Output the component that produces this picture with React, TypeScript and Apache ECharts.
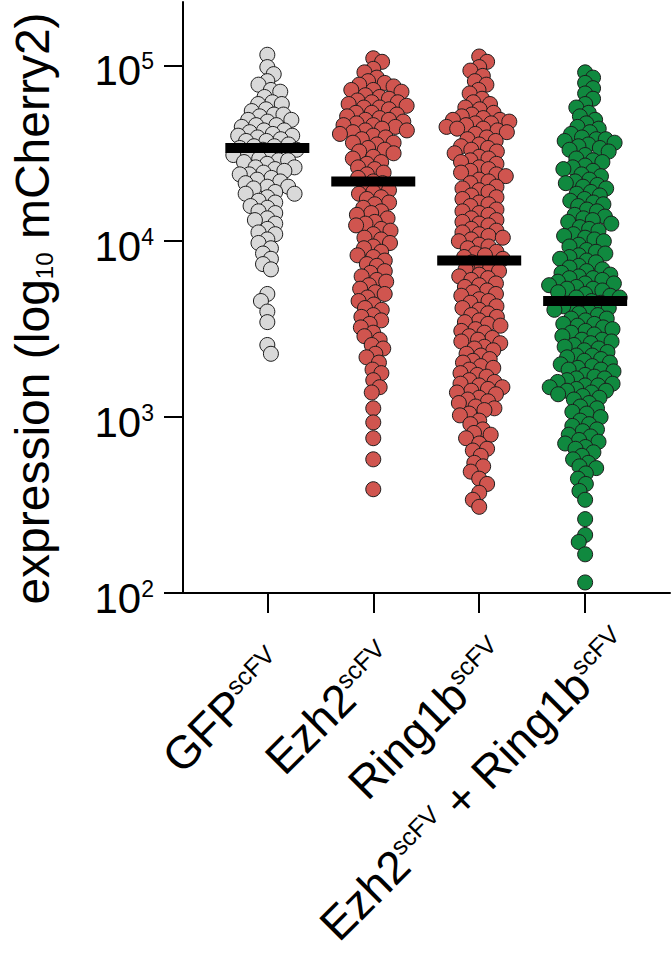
import React, { useEffect, useRef } from "react";
import * as echarts from "echarts";

// Categories on the x axis (each label carries a "scFV" superscript)
const categories = ["GFP", "Ezh2", "Ring1b", "Ezh2 + Ring1b"];
const superscript = "scFV";

// log10(mCherry2 expression) of each cell
const gfpLog10 = [
  5.06, 4.99, 4.95, 4.91, 4.89, 4.86, 4.85, 4.82, 4.79, 4.78, 4.78, 4.75, 4.74, 4.72, 4.72, 4.71,
  4.69, 4.69, 4.68, 4.66, 4.66, 4.65, 4.63, 4.63, 4.62, 4.61, 4.60, 4.60, 4.59, 4.58, 4.57, 4.57,
  4.55, 4.54, 4.54, 4.53, 4.52, 4.52, 4.51, 4.50, 4.49, 4.49, 4.47, 4.46, 4.46, 4.45, 4.44, 4.42,
  4.42, 4.41, 4.40, 4.39, 4.38, 4.38, 4.36, 4.35, 4.34, 4.33, 4.31, 4.31, 4.30, 4.28, 4.27, 4.27,
  4.25, 4.23, 4.22, 4.20, 4.19, 4.17, 4.16, 4.13, 4.12, 4.10, 4.07, 4.05, 4.04, 4.01, 3.99, 3.96,
  3.93, 3.90, 3.87, 3.84, 3.70, 3.66, 3.60, 3.54, 3.41, 3.36,
];
const ezh2Log10 = [
  5.04, 5.02, 4.98, 4.96, 4.93, 4.91, 4.90, 4.89, 4.88, 4.86, 4.86, 4.85, 4.83, 4.82, 4.81, 4.80,
  4.79, 4.79, 4.78, 4.77, 4.76, 4.76, 4.75, 4.73, 4.73, 4.72, 4.71, 4.70, 4.69, 4.69, 4.68, 4.67,
  4.66, 4.66, 4.65, 4.64, 4.63, 4.63, 4.62, 4.61, 4.60, 4.59, 4.58, 4.56, 4.56, 4.55, 4.53, 4.52,
  4.51, 4.50, 4.48, 4.47, 4.45, 4.44, 4.42, 4.41, 4.39, 4.38, 4.36, 4.34, 4.33, 4.31, 4.29, 4.28,
  4.27, 4.25, 4.24, 4.22, 4.21, 4.19, 4.17, 4.16, 4.15, 4.13, 4.11, 4.10, 4.09, 4.07, 4.06, 4.04,
  4.02, 4.01, 3.99, 3.97, 3.96, 3.94, 3.92, 3.91, 3.89, 3.87, 3.86, 3.83, 3.82, 3.80, 3.78, 3.77,
  3.75, 3.73, 3.71, 3.70, 3.68, 3.66, 3.64, 3.62, 3.61, 3.58, 3.57, 3.55, 3.53, 3.51, 3.48, 3.46,
  3.44, 3.41, 3.39, 3.36, 3.34, 3.31, 3.27, 3.25, 3.21, 3.17, 3.14, 3.05, 2.97, 2.88, 2.76, 2.59,
];
const ring1bLog10 = [
  5.05, 5.02, 4.99, 4.97, 4.94, 4.91, 4.89, 4.86, 4.84, 4.81, 4.79, 4.78, 4.76, 4.75, 4.73, 4.72,
  4.71, 4.70, 4.69, 4.69, 4.68, 4.67, 4.67, 4.66, 4.65, 4.64, 4.64, 4.63, 4.62, 4.61, 4.59, 4.58,
  4.57, 4.55, 4.54, 4.53, 4.52, 4.51, 4.50, 4.48, 4.47, 4.46, 4.45, 4.44, 4.42, 4.41, 4.40, 4.39,
  4.38, 4.37, 4.35, 4.34, 4.33, 4.31, 4.30, 4.29, 4.28, 4.26, 4.25, 4.24, 4.22, 4.21, 4.20, 4.18,
  4.17, 4.16, 4.15, 4.13, 4.12, 4.11, 4.10, 4.09, 4.07, 4.06, 4.05, 4.04, 4.03, 4.02, 4.01, 4.00,
  3.98, 3.97, 3.96, 3.94, 3.93, 3.92, 3.91, 3.90, 3.88, 3.87, 3.85, 3.84, 3.83, 3.81, 3.80, 3.79,
  3.78, 3.76, 3.75, 3.74, 3.72, 3.71, 3.70, 3.69, 3.67, 3.66, 3.65, 3.63, 3.62, 3.61, 3.59, 3.58,
  3.57, 3.55, 3.54, 3.53, 3.52, 3.50, 3.49, 3.48, 3.46, 3.45, 3.44, 3.43, 3.42, 3.40, 3.39, 3.38,
  3.36, 3.35, 3.33, 3.32, 3.31, 3.29, 3.28, 3.27, 3.25, 3.24, 3.23, 3.21, 3.20, 3.19, 3.18, 3.17,
  3.16, 3.15, 3.14, 3.13, 3.11, 3.10, 3.09, 3.08, 3.06, 3.05, 3.04, 3.02, 3.01, 2.98, 2.96, 2.93,
  2.91, 2.90, 2.88, 2.85, 2.82, 2.81, 2.78, 2.74, 2.72, 2.69, 2.65, 2.62, 2.57, 2.53, 2.49,
];
const comboLog10 = [
  4.96, 4.93, 4.90, 4.87, 4.84, 4.81, 4.78, 4.76, 4.73, 4.71, 4.69, 4.67, 4.65, 4.64, 4.62, 4.61,
  4.59, 4.58, 4.58, 4.57, 4.56, 4.55, 4.54, 4.53, 4.52, 4.51, 4.49, 4.47, 4.46, 4.45, 4.43, 4.42,
  4.41, 4.40, 4.38, 4.37, 4.35, 4.34, 4.33, 4.32, 4.31, 4.30, 4.28, 4.27, 4.26, 4.24, 4.23, 4.22,
  4.21, 4.20, 4.18, 4.17, 4.15, 4.14, 4.13, 4.12, 4.11, 4.10, 4.08, 4.07, 4.06, 4.04, 4.03, 4.02,
  4.01, 4.00, 3.98, 3.97, 3.95, 3.94, 3.93, 3.92, 3.91, 3.90, 3.89, 3.88, 3.86, 3.85, 3.84, 3.83,
  3.82, 3.81, 3.80, 3.79, 3.79, 3.78, 3.77, 3.76, 3.76, 3.75, 3.74, 3.73, 3.73, 3.72, 3.71, 3.70,
  3.69, 3.68, 3.68, 3.66, 3.65, 3.64, 3.63, 3.63, 3.62, 3.61, 3.60, 3.59, 3.58, 3.56, 3.56, 3.55,
  3.53, 3.53, 3.52, 3.51, 3.50, 3.49, 3.48, 3.47, 3.46, 3.44, 3.44, 3.43, 3.42, 3.41, 3.40, 3.39,
  3.38, 3.37, 3.35, 3.35, 3.34, 3.33, 3.32, 3.31, 3.30, 3.29, 3.28, 3.27, 3.27, 3.26, 3.24, 3.23,
  3.22, 3.22, 3.21, 3.20, 3.19, 3.18, 3.18, 3.17, 3.16, 3.15, 3.15, 3.14, 3.13, 3.12, 3.11, 3.10,
  3.08, 3.06, 3.05, 3.03, 3.02, 3.00, 2.98, 2.96, 2.95, 2.93, 2.92, 2.90, 2.89, 2.87, 2.86, 2.85,
  2.83, 2.82, 2.80, 2.78, 2.76, 2.74, 2.72, 2.71, 2.68, 2.65, 2.62, 2.58, 2.53, 2.42, 2.33, 2.29,
  2.22, 2.06,
];
const groups = [gfpLog10, ezh2Log10, ring1bLog10, comboLog10];

// Median of each group (log10)
const medianLog10 = [4.53, 4.34, 3.89, 3.66];

// Y axis ticks: exponents of 10
const yTickExponents = [2, 3, 4, 5];

// Styling / layout
const fillColors = ["#d9d9d9", "#d0554f", "#d0554f", "#10893f"];
const FONT = "'Liberation Sans', Arial, Helvetica, sans-serif";
const DOT = 15;
const SWARM_GAP = 9.5;
// where each rotated x label ends, relative to its tick (px)
const labelEndOffsets = [
  [-6, 48],
  [-2, 42],
  [4, 38],
  [21, 28],
];

function swarmOffsets(pys: number[], D: number): number[] {
  const order = pys.map((_, i) => i).sort((a, b) => pys[a] - pys[b]);
  const placed: { x: number; y: number }[] = [];
  const out = new Array(pys.length).fill(0);
  let flip = 1;
  for (const i of order) {
    const y = pys[i];
    const near = placed.filter((p) => Math.abs(p.y - y) < D);
    const cands: number[] = [0];
    for (const p of near) {
      const dx = Math.sqrt(D * D - (p.y - y) * (p.y - y));
      cands.push(p.x + dx, p.x - dx);
    }
    cands.sort((a, b) => {
      const d = Math.abs(a) - Math.abs(b);
      if (Math.abs(d) > 1e-9) return d;
      return flip * (b - a);
    });
    let chosen = 0;
    for (const c of cands) {
      let ok = true;
      for (const p of near) {
        if ((p.x - c) * (p.x - c) + (p.y - y) * (p.y - y) < D * D - 1e-6) {
          ok = false;
          break;
        }
      }
      if (ok) {
        chosen = c;
        break;
      }
    }
    if (chosen !== 0) flip = -flip;
    placed.push({ x: chosen, y });
    out[i] = chosen;
  }
  return out;
}

export default function App() {
  const ref = useRef<HTMLDivElement>(null);

  useEffect(() => {
    document.body.style.margin = "0";
    if (!ref.current) return;
    const chart = echarts.init(ref.current, null, { renderer: "svg" });

    const axisLineStyle = { color: "#000", width: 2 };
    const baseOption: any = {
      animation: false,
      grid: { left: 179, right: 1, top: 2, bottom: 372, containLabel: false },
      xAxis: {
        type: "value",
        min: -0.796,
        max: 3.801,
        axisLine: { show: true, onZero: false, lineStyle: axisLineStyle },
        axisTick: {
          show: true,
          customValues: [0, 1, 2, 3],
          length: 20,
          lineStyle: axisLineStyle,
        },
        axisLabel: { show: false },
        splitLine: { show: false },
      },
      yAxis: {
        type: "value",
        min: 2,
        max: 5.36,
        axisLine: { show: true, onZero: false, lineStyle: axisLineStyle },
        axisTick: {
          show: true,
          customValues: yTickExponents,
          length: 19,
          lineStyle: axisLineStyle,
        },
        axisLabel: {
          show: true,
          customValues: yTickExponents,
          margin: 29,
          padding: [10, 0, 0, 0],
          fontSize: 42,
          fontFamily: FONT,
          color: "#000",
          formatter: (v: number) => `{b|10}{s|${Math.round(v)}}`,
          rich: {
            b: { fontSize: 42, fontFamily: FONT, color: "#000" },
            s: { fontSize: 23, fontFamily: FONT, color: "#000", verticalAlign: "top" },
          },
        },
        splitLine: { show: false },
        name: "{m|expression (log}{sub|10}{m| mCherry2)}",
        nameLocation: "middle",
        nameRotate: 90,
        nameGap: 127,
        nameTextStyle: {
          fontSize: 48,
          fontFamily: FONT,
          color: "#000",
          padding: [0, 22, 0, 0],
          rich: {
            m: { fontSize: 48, fontFamily: FONT, color: "#000" },
            sub: { fontSize: 24, fontFamily: FONT, color: "#000", verticalAlign: "bottom" },
          },
        },
      },
      series: [],
    };
    chart.setOption(baseOption);

    const px0 = chart.convertToPixel({ xAxisIndex: 0 } as any, 0) as number;
    const px1 = chart.convertToPixel({ xAxisIndex: 0 } as any, 1) as number;
    const unit = px1 - px0;
    const axisY = chart.convertToPixel({ yAxisIndex: 0 } as any, 2) as number;

    const series: any[] = groups.map((vals, g) => {
      const pys = vals.map((v) => chart.convertToPixel({ yAxisIndex: 0 } as any, v) as number);
      const offs = swarmOffsets(pys, SWARM_GAP);
      return {
        type: "scatter",
        name: categories[g],
        symbol: "circle",
        symbolSize: DOT,
        data: vals.map((v, i) => [g + offs[i] / unit, v]),
        itemStyle: { color: fillColors[g], borderColor: "#1c1c1c", borderWidth: 1, opacity: 1 },
        emphasis: { disabled: true },
        z: 2,
      };
    });
    series.push({
      type: "scatter",
      name: "median",
      symbol: "rect",
      symbolSize: [84, 10],
      data: medianLog10.map((m, i) => [i, m]),
      itemStyle: { color: "#000", opacity: 1 },
      emphasis: { disabled: true },
      z: 5,
    });

    const rich = {
      m: { fontSize: 46, fontFamily: FONT, fill: "#000" },
      s: { fontSize: 25, fontFamily: FONT, fill: "#000", verticalAlign: "top" },
    };
    const graphic = categories.map((c, i) => {
      const tickX = chart.convertToPixel({ xAxisIndex: 0 } as any, i) as number;
      const text = c
        .split(" + ")
        .map((p) => `{m|${p}}{s|${superscript}}`)
        .join("{m| + }");
      return {
        type: "text",
        x: tickX + labelEndOffsets[i][0],
        y: axisY + labelEndOffsets[i][1],
        rotation: Math.PI / 4,
        style: {
          text,
          rich,
          fill: "#000",
          fontSize: 46,
          fontFamily: FONT,
          align: "right",
          verticalAlign: "top",
        },
      };
    });

    chart.setOption({ series, graphic });

    return () => chart.dispose();
  }, []);

  return <div ref={ref} style={{ width: 671, height: 965 }} />;
}
